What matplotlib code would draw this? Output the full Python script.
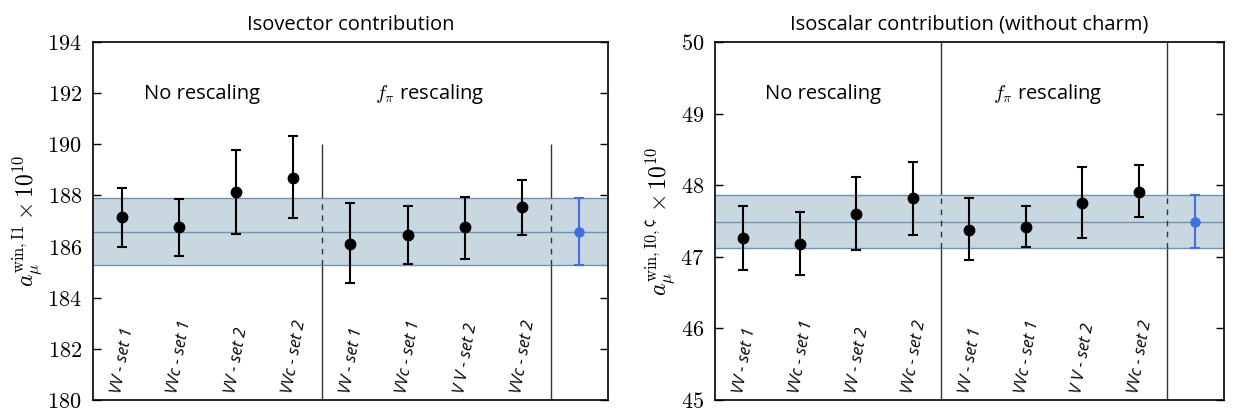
import numpy as np
import matplotlib
matplotlib.use("Agg")
import matplotlib.pyplot as plt
from matplotlib.transforms import blended_transform_factory

plt.rcParams['mathtext.fontset'] = 'cm'
plt.rcParams['font.family'] = ['Open Sans', 'DejaVu Sans']

# ensemble labels (bottom of each panel)
labels = ["VV - set 1", "VVc - set 1", "VV - set 2", "VVc - set 2",
          "VV - set 1", "VVc - set 1", "V V - set 2", "VVc - set 2"]

# isovector
iv_val = [187.17, 186.76, 188.13, 188.69, 186.12, 186.46, 186.76, 187.55]
iv_lo = [186.0, 185.65, 186.5, 187.11, 184.57, 185.32, 185.52, 186.47]
iv_hi = [188.31, 187.87, 189.78, 190.31, 187.7, 187.6, 187.93, 188.61]
iv_final = 186.57
iv_final_lo = 185.3
iv_final_hi = 187.9

# isoscalar
is_val = [47.26, 47.18, 47.6, 47.82, 47.38, 47.42, 47.75, 47.91]
is_lo = [46.82, 46.75, 47.09, 47.3, 46.95, 47.14, 47.27, 47.55]
is_hi = [47.71, 47.63, 48.11, 48.33, 47.82, 47.71, 48.25, 48.28]
is_final = 47.48
is_final_lo = 47.12
is_final_hi = 47.86

band_face = "#c9d7e0"
band_edge = "#6f93b0"
blue = "#3f6fe0"


def panel(ax, val, lo, hi, fin, flo, fhi, ylim, yticks, title, ylabel, vline_top):
    x = np.arange(1, len(val) + 1)
    val = np.array(val)
    err = [val - np.array(lo), np.array(hi) - val]

    ax.set_xlim(0.5, 9.5)
    ax.set_ylim(*ylim)

    # separators: solid behind the band, dashed on top
    for xs in (4.5, 8.5):
        ax.vlines(xs, ylim[0], vline_top, color="#333333", lw=1.0, zorder=1)
        ax.vlines(xs, flo, fhi, color="#333333", lw=1.0, linestyles=(0, (4, 4)), zorder=3)

    ax.axhspan(flo, fhi, color=band_face, zorder=2, lw=0)
    ax.axhline(flo, color=band_edge, lw=1.0, zorder=2.5)
    ax.axhline(fhi, color=band_edge, lw=1.0, zorder=2.5)
    ax.axhline(fin, color=band_edge, lw=1.0, zorder=2.5)

    ax.errorbar(x, val, yerr=err, fmt="o", color="black", ms=7.5,
                elinewidth=1.5, capsize=3.5, capthick=1.5, zorder=5)
    ax.errorbar([9], [fin], yerr=[[fin - flo], [fhi - fin]], fmt="o", color=blue,
                ms=6.5, elinewidth=1.5, capsize=3.5, capthick=1.5, zorder=5)

    tr = blended_transform_factory(ax.transData, ax.transAxes)
    for xi, lab in zip(x, labels):
        ax.text(xi + 0.02, 0.015, lab, transform=tr, rotation=80, fontsize=12,
                style="italic", ha="center", va="bottom", zorder=6)

    ytop = ylim[0] + (ylim[1] - ylim[0]) * 0.855
    ax.text(2.4, ytop, "No rescaling", fontsize=14.5, ha="center", va="center")
    ax.text(6.38, ytop, r"$f_\pi$ rescaling", fontsize=14.5, ha="center", va="center")

    ax.set_xticks([])
    ax.set_yticks(yticks)
    ax.set_yticklabels([f"${t}$" for t in yticks], fontsize=16)
    ax.tick_params(axis="y", direction="in", length=6, width=1, right=True, pad=8)
    for s in ax.spines.values():
        s.set_linewidth(1.2)
    ax.set_title(title, fontsize=14.5, pad=9)
    ax.set_ylabel(ylabel, fontsize=17, labelpad=2)


fig = plt.figure(figsize=(12.33, 4.12), dpi=100)
ax1 = fig.add_axes([0.0754, 0.029, 0.4177, 0.869])
ax2 = fig.add_axes([0.580, 0.029, 0.4125, 0.869])

panel(ax1, iv_val, iv_lo, iv_hi, iv_final, iv_final_lo, iv_final_hi,
      (180, 194), [180, 182, 184, 186, 188, 190, 192, 194],
      "Isovector contribution", r"$a_\mu^{\rm win,I1}\times 10^{10}$", 190)
panel(ax2, is_val, is_lo, is_hi, is_final, is_final_lo, is_final_hi,
      (45, 50), [45, 46, 47, 48, 49, 50],
      "Isoscalar contribution (without charm)",
      r"$a_\mu^{\rm win,I0,\mathdefault{¢}}\times 10^{10}$", 50)

fig.savefig("out.png", dpi=100)
